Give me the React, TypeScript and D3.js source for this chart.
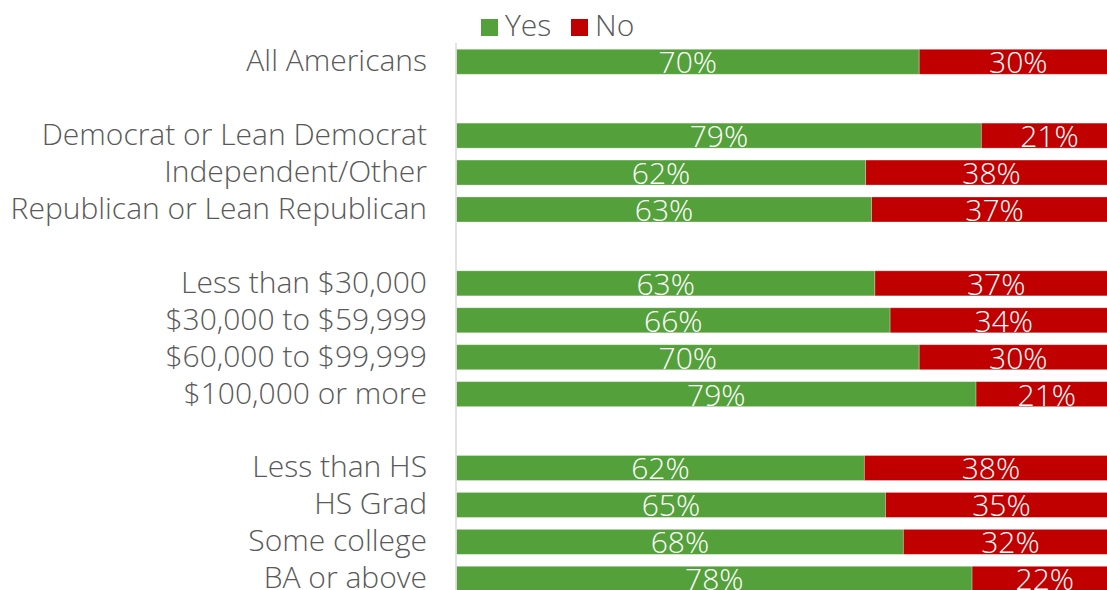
import React from "react";
import * as d3 from "d3";

const categories = [
  "All Americans",
  "",
  "Democrat or Lean Democrat",
  "Independent/Other",
  "Republican or Lean Republican",
  " ",
  "Less than $30,000",
  "$30,000 to $59,999",
  "$60,000 to $99,999",
  "$100,000 or more",
  "  ",
  "Less than HS",
  "HS Grad",
  "Some college",
  "BA or above",
];
const yesValues: (number | null)[] = [70.0, null, 79.4, 61.9, 62.8, null, 63.3, 65.6, 70.0, 78.6, null, 61.7, 64.9, 67.6, 78.0];
const noValues: (number | null)[] = yesValues.map((v) => (v == null ? null : 100 - v));
const seriesNames = ["Yes", "No"];
const seriesColors = ["#54A03A", "#C00000"];

const W = 1107;
const H = 590;
const FONT = "'Open Sans', sans-serif";
const FS = 30;

export default function App() {
  const x = d3.scaleLinear().domain([0, 100]).range([456.5, 1117.5]);
  const y = d3
    .scaleBand<string>()
    .domain(categories)
    .range([43.3, 43.3 + 15 * 36.93])
    .paddingInner(0.323)
    .paddingOuter(0.1615);

  return (
    <svg
      width={W}
      height={H}
      style={{ position: "absolute", left: 0, top: 0, background: "#fff" }}
      fontFamily={FONT}
    >
      {/* legend */}
      <g>
        <rect x={481} y={19} width={17} height={17} fill={seriesColors[0]} />
        <text x={505} y={35.5} fontSize={FS} fontWeight={300} fill="#595959">
          {seriesNames[0]}
        </text>
        <rect x={571} y={19} width={17} height={17} fill={seriesColors[1]} />
        <text x={595} y={35.5} fontSize={FS} fontWeight={300} fill="#595959">
          {seriesNames[1]}
        </text>
      </g>
      {/* bars */}
      {categories.map((c, i) => {
        const yv = yesValues[i];
        const nv = noValues[i];
        if (yv == null || nv == null) return null;
        const y0 = y(c)!;
        const bh = y.bandwidth();
        const cy = y0 + bh / 2;
        return (
          <g key={c}>
            <rect x={x(0)} y={y0} width={x(yv) - x(0)} height={bh} fill={seriesColors[0]} stroke="#ffffff" strokeOpacity={0.35} strokeWidth={0.8} />
            <rect x={x(yv)} y={y0} width={x(100) - x(yv)} height={bh} fill={seriesColors[1]} stroke="#ffffff" strokeOpacity={0.35} strokeWidth={0.8} />
            <text x={(x(0) + x(yv)) / 2} y={cy + 11.5} textAnchor="middle" fontSize={FS} fontWeight={300} fill="#fff">
              {Math.round(yv)}%
            </text>
            <text x={(x(yv) + x(100)) / 2} y={cy + 11.5} textAnchor="middle" fontSize={FS} fontWeight={300} fill="#fff">
              {Math.round(nv)}%
            </text>
          </g>
        );
      })}
      {/* axis line */}
      <line x1={456} x2={456} y1={43} y2={H} stroke="#D9D9D9" strokeWidth={1.5} />
      {/* category labels */}
      {categories.map((c) =>
        c.trim() === "" ? null : (
          <text key={c} x={427} y={y(c)! + y.bandwidth() / 2 + 9.5} textAnchor="end" fontSize={FS} fontWeight={300} fill="#595959">
            {c}
          </text>
        )
      )}
    </svg>
  );
}
